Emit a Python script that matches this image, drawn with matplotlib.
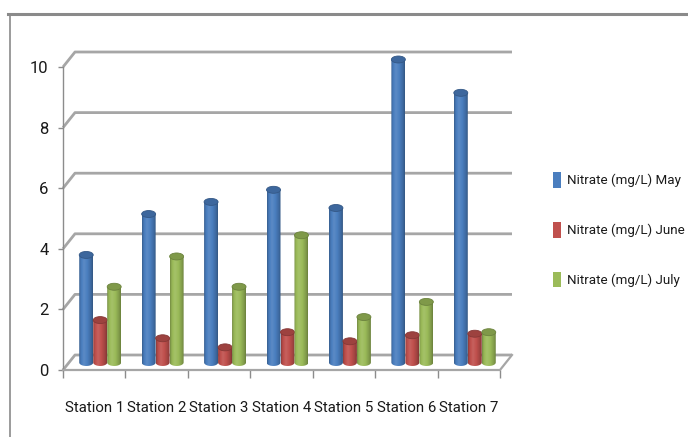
import numpy as np
import matplotlib
matplotlib.use("Agg")
import matplotlib.pyplot as plt
from matplotlib.patches import Ellipse, Polygon, Patch
from matplotlib.lines import Line2D
from matplotlib.colors import to_rgb

plt.rcParams['font.family'] = ['Roboto', 'DejaVu Sans']
FS = 10.5

stations = ["Station 1", "Station 2", "Station 3", "Station 4",
            "Station 5", "Station 6", "Station 7"]
nitrate_may = [3.55, 4.9, 5.3, 5.7, 5.1, 10.0, 8.9]
nitrate_june = [1.4, 0.8, 0.5, 1.0, 0.7, 0.9, 0.95]
nitrate_july = [2.5, 3.5, 2.5, 4.2, 1.5, 2.0, 1.0]
series_names = ["Nitrate (mg/L) May", "Nitrate (mg/L) June", "Nitrate (mg/L) July"]
series_colors = ["#4a7ebf", "#c0504d", "#9bbb59"]
y_ticks = [0, 2, 4, 6, 8, 10]

W, H, DPI = 688, 437, 100
fig = plt.figure(figsize=(W / DPI, H / DPI), dpi=DPI)
fig.patch.set_facecolor("white")

# outer chart frame (top and left edges)
frame_c = "#8a8a8a"
fig.add_artist(Line2D([8 / W, 1], [1 - 14 / H, 1 - 14 / H], transform=fig.transFigure,
                      color=frame_c, lw=2.2))
fig.add_artist(Line2D([10 / W, 10 / W], [0, 1 - 14 / H], transform=fig.transFigure,
                      color=frame_c, lw=1.2))

# plot area: front face of the 3-D box
ax = fig.add_axes([63 / W, (H - 370) / H, 437 / W, 303 / H])
ncat = len(stations)
ax.set_xlim(0, ncat)
ax.set_ylim(0, 10)
ax.patch.set_alpha(0)

# depth offset of the back wall (category units, value units)
dx, dy = 0.192, 0.495
grid_c = "#a6a6a6"

for v in y_ticks:
    ax.plot([0, dx, ncat + dx], [v, v + dy, v + dy], color=grid_c, lw=2.0,
            clip_on=False, solid_capstyle="butt", zorder=1)
# floor edges
ax.plot([0, ncat, ncat + dx], [0, 0, dy], color=grid_c, lw=1.6, clip_on=False, zorder=1)

for s in ["top", "right"]:
    ax.spines[s].set_visible(False)
ax.spines["left"].set_color("#8c8c8c")
ax.spines["bottom"].set_color("#a6a6a6")
ax.spines["left"].set_linewidth(1.0)
ax.spines["bottom"].set_linewidth(1.4)

ax.set_yticks(y_ticks)
ax.set_yticklabels([str(t) for t in y_ticks])
ax.tick_params(axis="y", length=3.5, width=1.0, color="#8c8c8c", pad=7,
               labelsize=FS + 1.5, labelcolor="#1a1a1a")
ax.set_xticks(np.arange(ncat + 1))
ax.set_xticklabels([])
ax.set_xticks(np.arange(ncat) + 0.5, minor=True)
ax.set_xticklabels(stations, minor=True)
ax.tick_params(axis="x", which="major", length=6, width=1.0, color="#8c8c8c")
ax.tick_params(axis="x", which="minor", length=0, pad=22, labelsize=FS + 0.3,
               labelcolor="#1a1a1a")


def shade(c, f):
    r = np.array(to_rgb(c))
    if f >= 1:
        return tuple(r + (1 - r) * (f - 1))
    return tuple(r * f)


def gradient_img(color):
    # horizontal lighting across a cylinder: dark rim, highlight left of centre
    t = np.linspace(0, 1, 64)
    prof = np.interp(t, [0, 0.12, 0.35, 0.6, 0.88, 1.0],
                     [0.74, 0.95, 1.1, 1.0, 0.82, 0.68])
    img = np.array([shade(color, f) for f in prof])
    return img[np.newaxis, :, :]


bar_w = 0.224
ell_h = 0.23
base = dy / 2
series = [nitrate_may, nitrate_june, nitrate_july]

for i in range(ncat):
    xc_group = i + 0.5 + dx / 2
    for k, (vals, col) in enumerate(zip(series, series_colors)):
        v = vals[i]
        xc = xc_group + (k - 1) * bar_w
        x0, x1 = xc - bar_w / 2, xc + bar_w / 2
        top = base + v
        # body outline: straight sides, rounded bottom
        th = np.linspace(np.pi, 2 * np.pi, 30)
        arc_x = xc + bar_w / 2 * np.cos(th)
        arc_y = base + ell_h / 2 * np.sin(th)
        pts = np.column_stack([np.concatenate([[x0], arc_x, [x1, x1, x0]]),
                               np.concatenate([[top], arc_y, [base, top, top]])])
        body = Polygon(pts, closed=True, facecolor="none", edgecolor="none")
        ax.add_patch(body)
        im = ax.imshow(gradient_img(col), extent=[x0, x1, base - ell_h, top],
                       aspect="auto", interpolation="bilinear", zorder=3 + k * 0.1)
        im.set_clip_box(fig.bbox)
        im.set_clip_path(body)
        cap = Ellipse((xc, top), bar_w, ell_h, facecolor=shade(col, 0.82),
                      edgecolor=shade(col, 0.7), lw=0.6, zorder=3.05 + k * 0.1,
                      clip_on=False)
        ax.add_patch(cap)

ax.set_xlim(0, ncat)
ax.set_ylim(0, 10)

handles = [Patch(facecolor=c, edgecolor="none") for c in series_colors]
fig.legend(handles, series_names, loc="upper left",
           bbox_to_anchor=(541 / W, 1 - 160 / H), frameon=False,
           fontsize=9.6, handlelength=0.6, handleheight=1.45, handletextpad=0.45,
           labelspacing=2.55, labelcolor="#1a1a1a")

fig.savefig("out.png", dpi=DPI, facecolor="white")
